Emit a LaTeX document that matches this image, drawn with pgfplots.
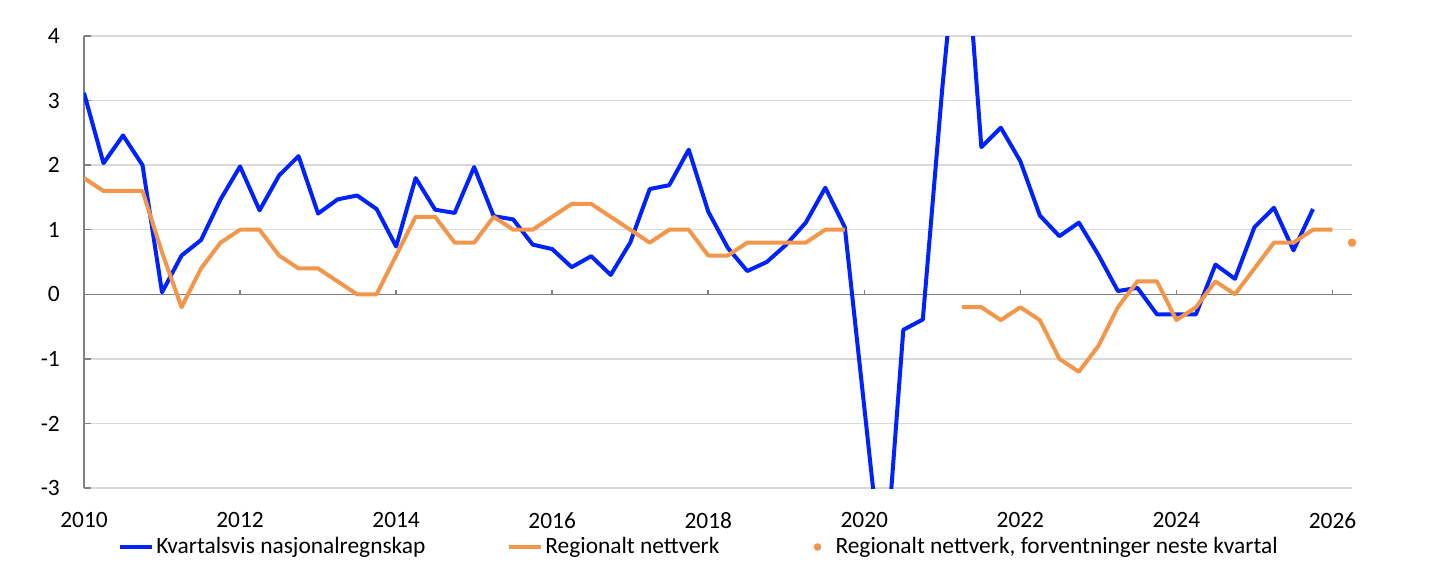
\documentclass[border=0pt]{standalone}
\usepackage{pgfplots}
\pgfplotsset{compat=1.18}
\usepackage{fontspec}
\setmainfont{Carlito}
\definecolor{nbblue}{RGB}{0,34,255}
\definecolor{nborange}{RGB}{241,150,75}
\definecolor{gridgray}{RGB}{217,217,217}
\definecolor{axgray}{RGB}{128,128,128}

\pgfplotsset{
  lineleg/.style={legend image code/.code={\draw[##1] (0pt,0pt) -- (16pt,0pt);}},
  dotleg/.style={legend image code/.code={\path[draw=none] (0pt,0pt) (16pt,0pt); \fill[nborange, draw=none] (8pt,0pt) circle (1.9pt);}},
}

% x = quarter index from 2010 Q1 (0 = 2010.00, 4 = 2011.00, ...)
\pgfplotstableread{
x y
0 3.12
1 2.03
2 2.46
3 2.00
4 0.03
5 0.60
6 0.84
7 1.47
8 1.98
9 1.30
10 1.84
11 2.14
12 1.25
13 1.47
14 1.53
15 1.32
16 0.74
17 1.80
18 1.31
19 1.26
20 1.97
21 1.21
22 1.16
23 0.77
24 0.70
25 0.42
26 0.59
27 0.30
28 0.80
29 1.63
30 1.69
31 2.24
32 1.28
33 0.72
34 0.36
35 0.50
36 0.77
37 1.11
38 1.65
39 1.04
40 -1.75
41 -4.55
42 -0.55
43 -0.39
44 3.20
45 6.30
46 2.28
47 2.58
48 2.06
49 1.22
50 0.90
51 1.11
52 0.61
53 0.05
54 0.10
55 -0.31
56 -0.31
57 -0.31
58 0.46
59 0.24
60 1.04
61 1.34
62 0.68
63 1.32
}\knr

\pgfplotstableread{
x y
0 1.8
1 1.6
2 1.6
3 1.6
4 0.65
5 -0.2
6 0.4
7 0.8
8 1.0
9 1.0
10 0.6
11 0.4
12 0.4
13 0.2
14 0.0
15 0.0
16 0.6
17 1.2
18 1.2
19 0.8
20 0.8
21 1.2
22 1.0
23 1.0
24 1.2
25 1.4
26 1.4
27 1.2
28 1.0
29 0.8
30 1.0
31 1.0
32 0.6
33 0.6
34 0.8
35 0.8
36 0.8
37 0.8
38 1.0
39 1.0
40 nan
45 -0.2
46 -0.2
47 -0.4
48 -0.2
49 -0.4
50 -1.0
51 -1.2
52 -0.8
53 -0.2
54 0.2
55 0.2
56 -0.4
57 -0.2
58 0.2
59 0.0
60 0.4
61 0.8
62 0.8
63 1.0
64 1.0
}\regnet

\pgfplotstableread{
x y
65 0.8
}\regforv

\begin{document}
\fontsize{11.7}{14}\selectfont
\begin{tikzpicture}
\useasboundingbox (0,0) rectangle (722.5pt,289.5pt);
\pgfplotsset{myaxis/.style={
  at={(42pt,45.5pt)}, anchor=south west, scale only axis,
  width=634pt, height=226pt,
  xmin=0, xmax=65, ymin=-3, ymax=4}}
\begin{axis}[myaxis,
  separate axis lines,
  axis y line*=left, axis x line*=bottom,
  x axis line style={draw=none},
  y axis line style={draw=axgray, line width=0.75pt, -},
  xtick={0,8,16,24,32,40,48,56,64},
  xticklabels={2010,2012,2014,2016,2018,2020,2022,2024,2026},
  ytick={-3,-2,-1,0,1,2,3,4},
  xtick style={draw=none},
  ytick style={draw=axgray, line width=0.75pt},
  tick align=inside,
  major tick length=3.3pt,
  ymajorgrids,
  major grid style={gridgray, line width=0.75pt},
  /pgf/number format/assume math mode=true,
  xticklabel style={yshift=-8pt},
  yticklabel style={xshift=-8pt},
  unbounded coords=jump,
  legend style={draw=none, fill=none, inner sep=0pt,
    at={(0.0268,-0.1305)}, anchor=west,
    legend columns=3,
    nodes={inner sep=1pt},
    /tikz/every even column/.append style={column sep=40pt}},
  legend cell align=left,
]
\draw[axgray, line width=0.75pt] (axis cs:0,0) -- (axis cs:65,0);
\pgfplotsinvokeforeach{8,16,24,32,40,48,56,64}{
  \draw[axgray, line width=0.75pt] (axis cs:#1,0) -- (axis cs:#1,0.062);
}
\addplot[nbblue, line width=2pt, line join=round, lineleg]
  table[x=x,y=y]{\knr};
\addlegendentry{Kvartalsvis nasjonalregnskap}
\addplot[nborange, line width=2pt, line join=round, lineleg]
  table[x=x,y=y]{\regnet};
\addlegendentry{Regionalt nettverk}
\addlegendimage{draw=none, no markers, dotleg}
\addlegendentry{Regionalt nettverk, forventninger neste kvartal}
\end{axis}
\begin{axis}[myaxis, hide axis, clip=false]
\addplot[only marks, mark=*, mark size=1.9pt, color=nborange] table[x=x,y=y]{\regforv};
\end{axis}
\end{tikzpicture}
\end{document}
